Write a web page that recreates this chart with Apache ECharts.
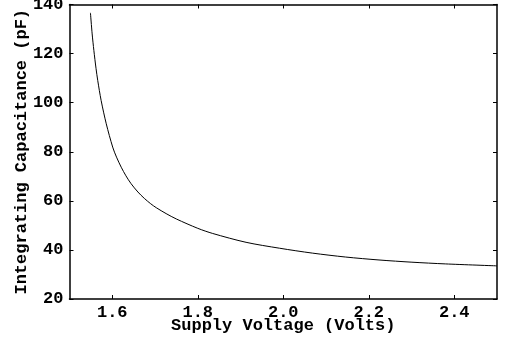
<!DOCTYPE html>
<html>
<head>
<meta charset="utf-8">
<script src="https://cdn.jsdelivr.net/npm/echarts@6/dist/echarts.min.js"></script>
<style>
  html, body { margin: 0; padding: 0; background: #fff; }
  #chart { width: 505px; height: 340px; }
</style>
</head>
<body>
<div id="chart"></div>
<script>
// values
var voltage = [1.549, 1.553, 1.557, 1.562, 1.566, 1.574, 1.586, 1.601, 1.610, 1.621, 1.632, 1.644, 1.660, 1.675, 1.690, 1.703, 1.726, 1.750, 1.800, 1.835, 1.913, 1.991, 2.068, 2.146, 2.224, 2.301, 2.379, 2.500];
var capacitance = [136.6, 128.0, 121.3, 114.0, 109.1, 100.9, 91.4, 81.9, 77.8, 73.7, 70.2, 67.0, 63.6, 61.0, 58.8, 57.2, 54.8, 52.6, 48.8, 46.7, 43.1, 40.7, 38.7, 37.1, 35.9, 35.0, 34.3, 33.5];
var xTicks = [1.6, 1.8, 2.0, 2.2, 2.4];

var font = "Liberation Mono";
var chart = echarts.init(document.getElementById("chart"));

var pts = voltage.map(function (v, i) { return [v, capacitance[i]]; });

var xBase = {
  type: "value",
  min: 1.5,
  max: 2.5,
  axisLine: { show: true, lineStyle: { color: "#000", width: 1.5 } },
  axisTick: { show: true, inside: true, length: 4, customValues: xTicks, lineStyle: { color: "#000" } },
  splitLine: { show: false }
};
var yBase = {
  type: "value",
  min: 20,
  max: 140,
  interval: 20,
  axisLine: { show: true, lineStyle: { color: "#000", width: 1.5 } },
  axisTick: { show: true, inside: true, length: 4, lineStyle: { color: "#000" } },
  splitLine: { show: false }
};

chart.setOption({
  animation: false,
  backgroundColor: "#fff",
  grid: { left: 69.5, right: 8, top: 4.5, bottom: 41, containLabel: false, outerBoundsMode: "none" },
  xAxis: [
    Object.assign({}, xBase, {
      position: "bottom",
      name: "Supply Voltage (Volts)",
      nameLocation: "middle",
      nameGap: 27,
      nameMoveOverlap: false,
      nameTextStyle: { fontFamily: font, fontWeight: "bold", fontSize: 17, color: "#000", verticalAlign: "middle" },
      axisLabel: {
        customValues: xTicks,
        formatter: function (v) { return v.toFixed(1); },
        fontFamily: font, fontWeight: "bold", fontSize: 17, color: "#000", margin: 5
      }
    }),
    Object.assign({}, xBase, { position: "top", axisLabel: { show: false } })
  ],
  yAxis: [
    Object.assign({}, yBase, {
      position: "left",
      name: "Integrating Capacitance (pF)",
      nameLocation: "middle",
      nameGap: 48,
      nameMoveOverlap: false,
      nameTextStyle: { fontFamily: font, fontWeight: "bold", fontSize: 17, color: "#000", verticalAlign: "middle" },
      axisLabel: { fontFamily: font, fontWeight: "bold", fontSize: 17, color: "#000", margin: 6 }
    }),
    Object.assign({}, yBase, { position: "right", axisLabel: { show: false } })
  ],
  series: [
    {
      type: "line",
      data: pts,
      smooth: 0.3,
      showSymbol: false,
      lineStyle: { color: "#000", width: 1 }
    }
  ]
});
</script>
</body>
</html>
